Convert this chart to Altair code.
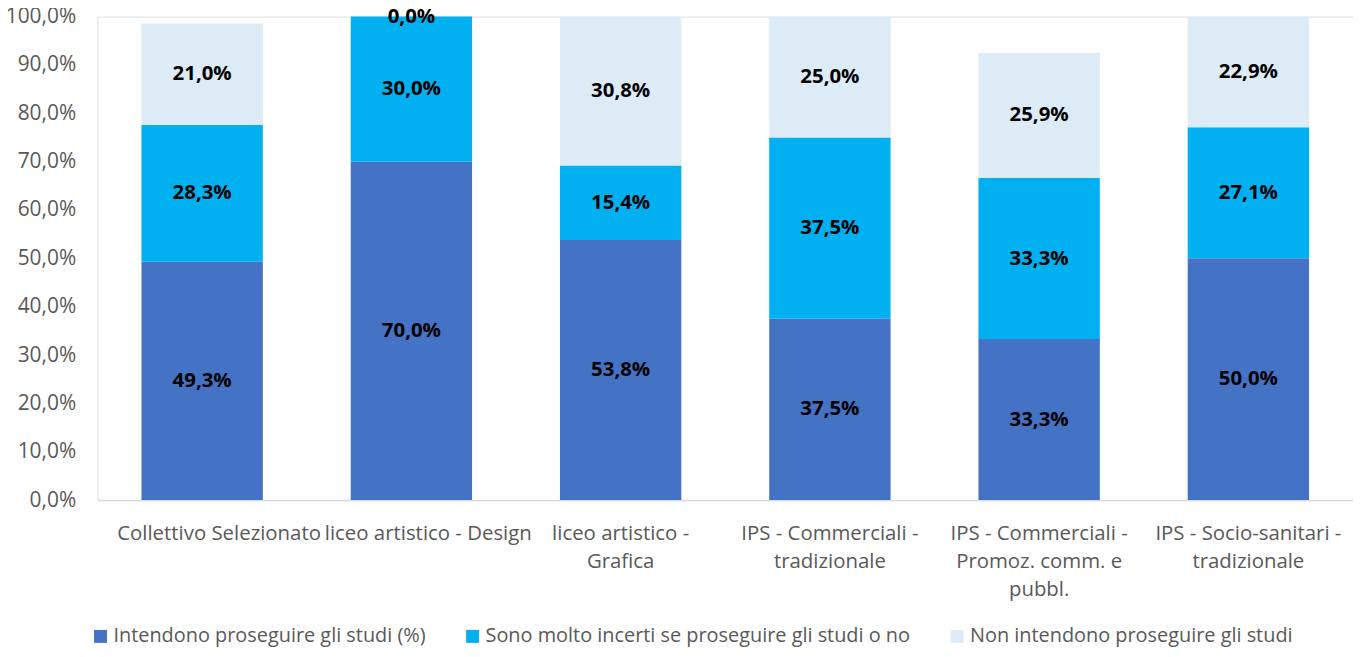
import altair as alt
import pandas as pd

categories = [
    "Collettivo Selezionato",
    "liceo artistico - Design",
    "liceo artistico -|Grafica",
    "IPS - Commerciali -|tradizionale",
    "IPS - Commerciali -|Promoz. comm.  e|pubbl.",
    "IPS - Socio-sanitari -|tradizionale",
]
series = [
    "Intendono proseguire gli studi (%)",
    "Sono molto incerti se proseguire gli studi o no",
    "Non intendono proseguire gli studi",
]
intendono = [49.3, 70.0, 53.8, 37.5, 33.3, 50.0]
incerti = [28.3, 30.0, 15.4, 37.5, 33.3, 27.1]
non_intendono = [21.0, 0.0, 30.8, 25.0, 25.9, 22.9]
colors = ["#4472C4", "#00B0F0", "#DDEBF7"]
y_ticks = [0, 10, 20, 30, 40, 50, 60, 70, 80, 90, 100]

rows = []
for s_i, (name, vals) in enumerate(zip(series, [intendono, incerti, non_intendono])):
    for c, v in zip(categories, vals):
        rows.append({"cat": c, "serie": name, "value": v, "ord": s_i})
df = pd.DataFrame(rows)

FONT = "Open Sans"

x_enc = alt.X(
    "cat:N",
    sort=categories,
    scale=alt.Scale(paddingInner=0.42, paddingOuter=0.21),
    axis=alt.Axis(
        title=None,
        labelAngle=0,
        labelExpr="split(datum.label, '|')",
        labelFontSize=20.5,
        labelColor="#595959",
        labelFont=FONT,
        labelPadding=24,
        labelLimit=1000,
        labelLineHeight=28,
        labelOffset={
            "condition": {
                "test": "indexof(['Collettivo Selezionato', 'liceo artistico - Design'], datum.value) >= 0",
                "value": 17,
            },
            "value": 0,
        },
        ticks=False,
        domainColor="#D9D9D9",
        domainWidth=1.5,
        grid=False,
    ),
)

y_scale = alt.Scale(domain=[0, 100], nice=False)

bars = alt.Chart(df).mark_bar().encode(
    x=x_enc,
    y=alt.Y(
        "value:Q",
        stack="zero",
        scale=y_scale,
        axis=alt.Axis(
            title=None,
            values=y_ticks,
            labelExpr="replace(format(datum.value, '.1f'), '.', ',') + '%'",
            labelFontSize=21,
            labelColor="#595959",
            labelFont=FONT,
            labelPadding=22,
            ticks=False,
            domain=False,
            grid=False,
        ),
    ),
    color=alt.Color(
        "serie:N",
        sort=series,
        scale=alt.Scale(domain=series, range=colors),
        legend=alt.Legend(
            title=None,
            orient="none",
            direction="horizontal",
            legendX=-7,
            legendY=613,
            symbolType="square",
            symbolSize=169,
            symbolStrokeWidth=0,
            labelFontSize=20,
            labelColor="#595959",
            labelFont=FONT,
            labelLimit=1000,
            labelOffset=3,
            columnPadding=36,
        ),
    ),
    order=alt.Order("ord:Q"),
)

labels = (
    alt.Chart(df)
    .transform_stack(
        stack="value", groupby=["cat"], as_=["v0", "v1"], sort=[alt.SortField("ord")]
    )
    .transform_calculate(
        mid="(datum.v0 + datum.v1) / 2",
        lab="replace(format(datum.value, '.1f'), '.', ',') + '%'",
    )
    .mark_text(fontSize=20.5, fontWeight="bold", color="black", font=FONT)
    .encode(
        x=alt.X("cat:N", sort=categories),
        y=alt.Y("mid:Q", scale=y_scale),
        text="lab:N",
    )
)

chart = (
    alt.layer(bars, labels)
    .properties(
        width=1262,
        height=486,
        autosize=alt.AutoSizeParams(type="none"),
        padding={"left": 90, "top": 7, "right": 0, "bottom": 148},
    )
    .configure_view(strokeWidth=0)
    .configure(font=FONT)
)

chart.save("out.html", embed_options={"renderer": "svg", "actions": False})
